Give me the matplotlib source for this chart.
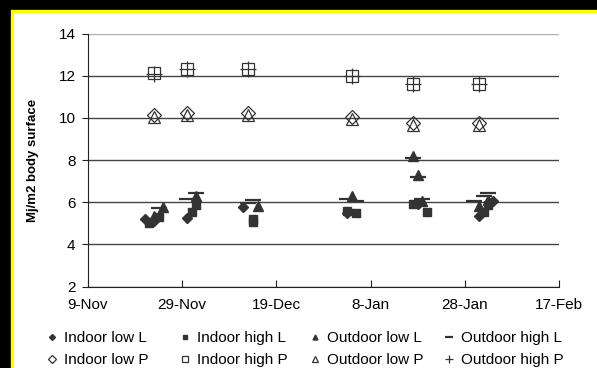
import matplotlib
matplotlib.use("Agg")
import matplotlib.pyplot as plt
import matplotlib.dates as mdates
from matplotlib.patches import Rectangle
import numpy as np

plt.rcParams['font.family'] = ['Liberation Sans', 'DejaVu Sans']

# sampling dates for the "P" series (all four share them)
p_dates = ['2000-11-23', '2000-11-30', '2000-12-13', '2001-01-04', '2001-01-17', '2001-01-31']
indoor_low_p = [10.15, 10.25, 10.25, 10.05, 9.75, 9.75]
indoor_high_p = [12.15, 12.3, 12.3, 12.0, 11.6, 11.6]
outdoor_low_p = [10.05, 10.15, 10.15, 9.95, 9.65, 9.65]
outdoor_high_p = [12.1, 12.3, 12.3, 12.0, 11.6, 11.6]

# "L" series, read point by point
indoor_low_l_dates = ['2000-11-23', '2000-11-21', '2000-11-30', '2000-12-12', '2001-01-03', '2001-01-18', '2001-01-31', '2001-02-03']
indoor_low_l = [5.1, 5.2, 5.25, 5.75, 5.5, 5.9, 5.35, 6.05]
indoor_high_l_dates = ['2000-11-22', '2000-11-24', '2000-12-01', '2000-12-02', '2000-12-14', '2000-12-14',
                       '2001-01-05', '2001-01-03', '2001-01-17', '2001-01-20', '2001-02-01', '2001-02-02']
indoor_high_l = [5.0, 5.3, 5.55, 5.85, 5.2, 5.05, 5.5, 5.6, 5.9, 5.55, 5.55, 5.85]
outdoor_low_l_dates = ['2000-11-25', '2000-11-23', '2000-12-02', '2000-12-15', '2001-01-04', '2001-01-17',
                       '2001-01-18', '2001-01-19', '2001-01-31', '2001-02-02']
outdoor_low_l = [5.75, 5.35, 6.3, 5.8, 6.3, 8.2, 7.3, 6.05, 5.8, 6.1]
outdoor_high_l_dates = ['2000-11-24', '2000-11-22', '2000-11-30', '2000-12-02', '2000-12-14', '2000-12-13',
                        '2001-01-03', '2001-01-05', '2001-01-17', '2001-01-18', '2001-01-19', '2001-01-30',
                        '2001-02-01', '2001-02-02']
outdoor_high_l = [5.7, 5.2, 6.15, 6.45, 6.1, 5.95, 6.15, 6.05, 8.1, 7.2, 6.15, 6.05, 6.3, 6.45]

x_ticks = ['2000-11-09', '2000-11-29', '2000-12-19', '2001-01-08', '2001-01-28', '2001-02-17']
y_ticks = [2, 4, 6, 8, 10, 12, 14]


def d(lst):
    return np.array(lst, dtype='datetime64[D]')


fig = plt.figure(figsize=(5.97, 3.68), dpi=100, facecolor='black')
fig.patches.append(Rectangle((11.5 / 597, -0.05), 1.1, 1 - 10.5 / 368 + 0.05,
                             transform=fig.transFigure, facecolor='white',
                             edgecolor='#ffff00', linewidth=2.4, zorder=-10))

ax = fig.add_axes([88 / 597, 81.5 / 368, 471 / 597, 253 / 368])
ax.set_facecolor('white')

dark = '#333333'
h1, = ax.plot(d(indoor_low_l_dates), indoor_low_l, 'D', ms=5.5, color=dark, ls='none', label='Indoor low L')
h2, = ax.plot(d(indoor_high_l_dates), indoor_high_l, 's', ms=6, color=dark, ls='none', label='Indoor high L')
h3, = ax.plot(d(outdoor_low_l_dates), outdoor_low_l, '^', ms=6.5, color=dark, ls='none', label='Outdoor low L')
h4, = ax.plot(d(outdoor_high_l_dates), outdoor_high_l, '_', ms=11, mew=1.6, color=dark, ls='none', label='Outdoor high L')
h5, = ax.plot(d(p_dates), indoor_low_p, 'D', ms=7, mfc='none', mec=dark, mew=0.9, ls='none', label='Indoor low P')
h6, = ax.plot(d(p_dates), indoor_high_p, 's', ms=8, mfc='none', mec=dark, mew=0.9, ls='none', label='Indoor high P')
h7, = ax.plot(d(p_dates), outdoor_low_p, '^', ms=8, mfc='none', mec=dark, mew=0.9, ls='none', label='Outdoor low P')
h8, = ax.plot(d(p_dates), outdoor_high_p, '+', ms=11, mec=dark, mew=0.9, ls='none', label='Outdoor high P')

ax.set_xlim(d(x_ticks)[0], d(x_ticks)[-1])
ax.set_ylim(2, 14)
ax.set_xticks(d(x_ticks))
ax.xaxis.set_major_formatter(plt.FuncFormatter(
    lambda v, p: (lambda t: f"{t.day}-{t.strftime('%b')}")(mdates.num2date(v))))
ax.set_yticks(y_ticks)
ax.yaxis.grid(True, color='#444444', linewidth=1)
ax.set_axisbelow(True)
# the top grid line is lighter in the reference
ax.yaxis.get_gridlines()[-1].set_color('#b0b0b0')

for s in ['top', 'right']:
    ax.spines[s].set_visible(False)
for s in ['left', 'bottom']:
    ax.spines[s].set_color('#222222')
ax.tick_params(axis='x', direction='in', length=5, pad=8, labelsize=11, color='#222222')
ax.tick_params(axis='y', direction='out', length=4, pad=5, labelsize=11, color='#222222')

ax.set_ylabel('Mj/m2 body surface', fontsize=9.5, fontweight='bold')
ax.yaxis.set_label_coords(-0.104, 0.5)

# one small legend per column so the columns sit where the reference has them
columns = [(h1, h5), (h2, h6), (h3, h7), (h4, h8)]
col_x = [46, 179, 309, 443]
for (ha, hb), cx in zip(columns, col_x):
    fig.legend(handles=[ha, hb], labels=[ha.get_label(), hb.get_label()],
               loc='upper left', bbox_to_anchor=(cx / 597, 1 - 331 / 368),
               frameon=False, fontsize=11, markerscale=0.55, handlelength=0.8,
               handletextpad=0.4, labelspacing=0.55, borderpad=0, borderaxespad=0)

fig.savefig('out.png', dpi=100, facecolor=fig.get_facecolor())
